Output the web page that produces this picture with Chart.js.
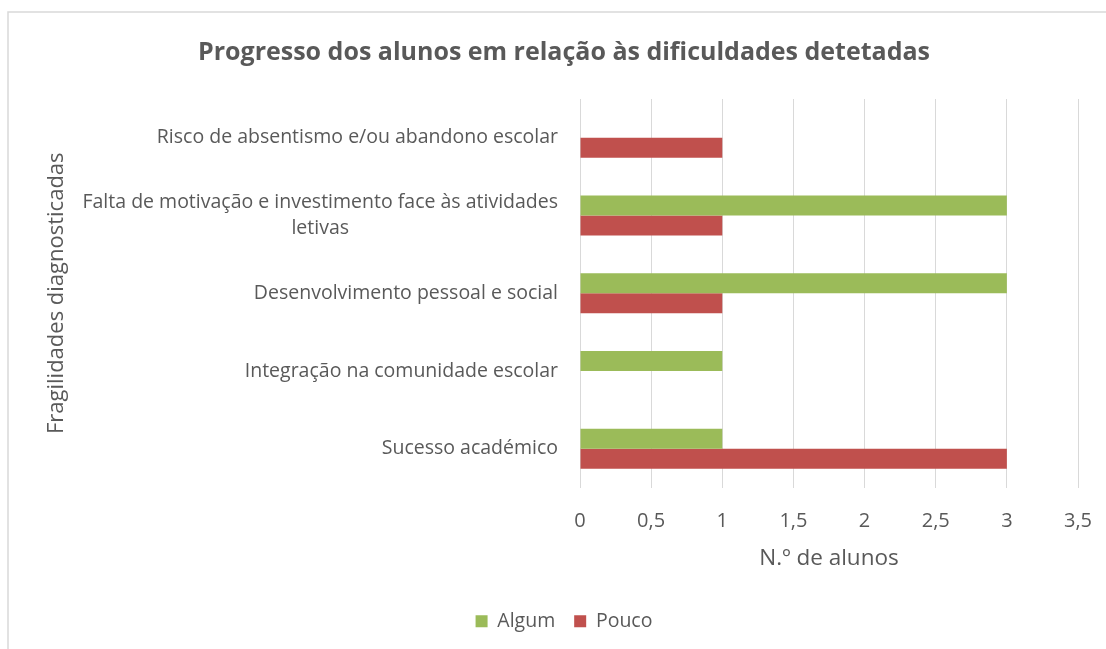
<!DOCTYPE html>
<html>
<head>
<meta charset="utf-8">
<script src="https://cdn.jsdelivr.net/npm/chart.js@4.4.1/dist/chart.umd.min.js"></script>
<style>
  html, body { margin: 0; padding: 0; background: #fff; }
  #wrap { width: 1106px; height: 649px; position: relative; }
</style>
</head>
<body>
<div id="wrap"><canvas id="chart" width="1106" height="649"></canvas></div>
<script>
const categories = [
    ['Risco de absentismo e/ou abandono escolar'],
    ['Falta de motivação e investimento face às atividades', 'letivas'],
    ['Desenvolvimento pessoal e social'],
    ['Integração na comunidade escolar'],
    ['Sucesso académico']
];
const algum = [0, 3, 3, 1, 1];
const pouco = [1, 1, 1, 0, 3];
const xTicks = [0, 0.5, 1, 1.5, 2, 2.5, 3, 3.5];

const textColor = '#595959';
const fontFamily = '"Open Sans", "Liberation Sans", sans-serif';

// frame + category labels drawn by hand so multi-line labels stay centred
const extras = {
    id: 'extras',
    beforeDraw(chart) {
        const ctx = chart.ctx;
        ctx.save();
        ctx.strokeStyle = '#d9d9d9';
        ctx.lineWidth = 1.5;
        ctx.beginPath();
        ctx.moveTo(8, 649);
        ctx.lineTo(8, 12);
        ctx.lineTo(1106, 12);
        ctx.stroke();
        ctx.restore();
    },
    afterDraw(chart) {
        const ctx = chart.ctx;
        const yScale = chart.scales.y;
        const area = chart.chartArea;
        ctx.save();
        ctx.fillStyle = textColor;
        ctx.font = '19.5px ' + fontFamily;
        ctx.textBaseline = 'middle';
        ctx.textAlign = 'center';
        const right = area.left - 22;
        const lineH = 26;
        categories.forEach((lines, i) => {
            const yc = yScale.getPixelForTick(i);
            const w = Math.max(...lines.map(l => ctx.measureText(l).width));
            const cx = right - w / 2;
            const y0 = yc - (lines.length - 1) * lineH / 2;
            lines.forEach((l, j) => ctx.fillText(l, cx, y0 + j * lineH));
        });
        // vertical axis title
        ctx.font = '22px ' + fontFamily;
        ctx.translate(57, (area.top + area.bottom) / 2);
        ctx.rotate(-Math.PI / 2);
        ctx.fillText('Fragilidades diagnosticadas', 0, 0);
        ctx.restore();
    }
};

new Chart(document.getElementById('chart').getContext('2d'), {
    type: 'bar',
    data: {
        labels: categories,
        datasets: [
            {
                label: 'Algum',
                data: algum,
                backgroundColor: '#9BBB59',
                borderWidth: 0
            },
            {
                label: 'Pouco',
                data: pouco,
                backgroundColor: '#C0504D',
                borderWidth: 0
            }
        ]
    },
    options: {
        indexAxis: 'y',
        responsive: false,
        animation: false,
        layout: { padding: { left: 28, right: 6, top: 0, bottom: 8 } },
        datasets: { bar: { categoryPercentage: 0.515, barPercentage: 1 } },
        scales: {
            x: {
                min: 0,
                max: 3.5,
                afterBuildTicks: (scale) => { scale.ticks = xTicks.map(v => ({ value: v })); },
                afterFit: (scale) => { scale.paddingRight = 28; scale.height -= 20; },
                grid: { color: '#d9d9d9', lineWidth: 1, drawTicks: false },
                border: { display: false },
                ticks: {
                    color: textColor,
                    padding: 22,
                    font: { size: 20, family: fontFamily },
                    callback: (v) => String(v).replace('.', ',')
                },
                title: {
                    display: true,
                    text: 'N.º de alunos',
                    color: textColor,
                    font: { size: 22.5, family: fontFamily },
                    padding: { top: 10, bottom: 20 }
                }
            },
            y: {
                afterFit: (scale) => { scale.width = 552; },
                grid: { display: false },
                border: { display: false },
                ticks: { display: false }
            }
        },
        plugins: {
            title: {
                display: true,
                text: 'Progresso dos alunos em relação às dificuldades detetadas',
                color: textColor,
                font: { size: 25, weight: 'bold', family: fontFamily },
                padding: { top: 38, bottom: 31 }
            },
            legend: {
                position: 'bottom',
                labels: {
                    color: textColor,
                    boxWidth: 12,
                    boxHeight: 12,
                    padding: 19,
                    font: { size: 19.5, family: fontFamily }
                }
            },
            tooltip: { enabled: false }
        }
    },
    plugins: [extras]
});
</script>
</body>
</html>
